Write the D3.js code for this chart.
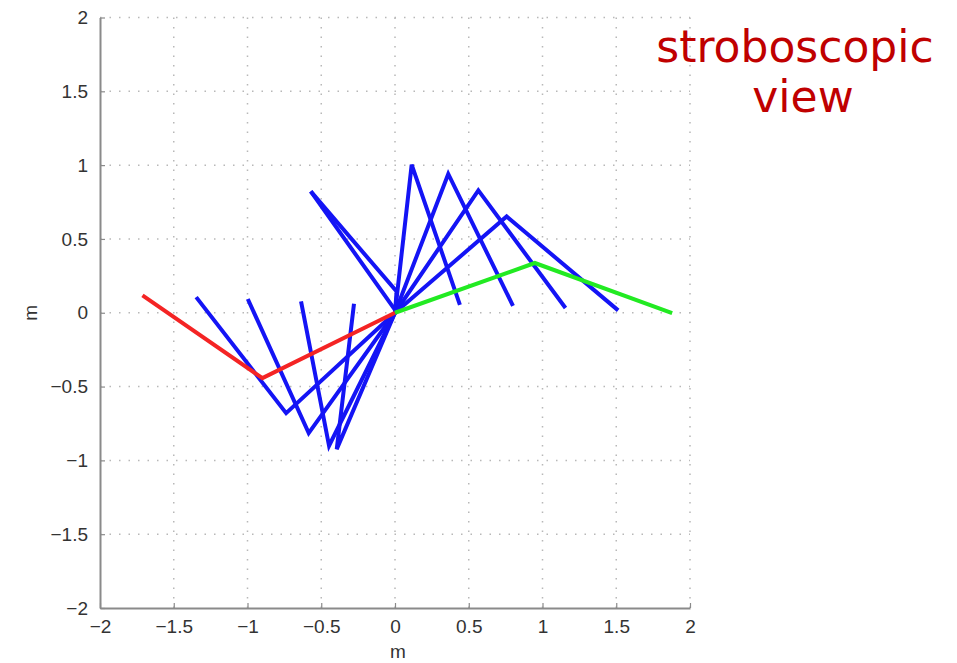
<!DOCTYPE html>
<html>
<head>
<meta charset="utf-8">
<script src="https://cdn.jsdelivr.net/npm/d3@7"></script>
<style>
  body { margin: 0; background: white; }
  svg { display: block; }
</style>
</head>
<body>
<svg id="chart"></svg>
<script>
// axis ticks
const ticks = [-2, -1.5, -1, -0.5, 0, 0.5, 1, 1.5, 2];

// blue arm poses: tip -> elbow -> base (origin)
const blueTipX = [-1.348, -0.998, -0.637, -0.278, -0.571, -0.571, 0.44, 0.80, 1.156, 1.513];
const blueTipY = [0.106, 0.093, 0.077, 0.061, 0.822, 0.822, 0.054, 0.047, 0.032, 0.016];
const blueElbowX = [-0.738, -0.585, -0.447, -0.395, 0.0, 0.011, 0.113, 0.361, 0.565, 0.757];
const blueElbowY = [-0.680, -0.815, -0.901, -0.924, 0.02, 0.144, 1.003, 0.940, 0.829, 0.652];

// start pose (red) and end pose (green)
const redTip = [-1.712, 0.117];
const redElbow = [-0.899, -0.443];
const greenTip = [1.879, -0.002];
const greenElbow = [0.948, 0.337];
const base = [0, 0];

const w = 957;
const h = 663;
const margin = { left: 100, right: 267, top: 17.5, bottom: 55 };

const svg = d3.select("#chart").attr("width", w).attr("height", h);

const x = d3.scaleLinear().domain([-2, 2]).range([margin.left, w - margin.right]);
const y = d3.scaleLinear().domain([-2, 2]).range([h - margin.bottom, margin.top]);

const fmt = d => (d < 0 ? "\u2212" : "") + Math.abs(d);
const font = "Liberation Sans, Arial, sans-serif";

// dotted grid
const grid = svg.append("g").attr("stroke", "#b8b8b8").attr("stroke-width", 1.5)
  .attr("stroke-dasharray", "1.5,8");
grid.selectAll(".gx").data(ticks.slice(1)).enter().append("line")
  .attr("x1", d => x(d)).attr("x2", d => x(d))
  .attr("y1", y(-2)).attr("y2", y(2));
grid.selectAll(".gy").data(ticks.slice(1)).enter().append("line")
  .attr("x1", x(-2)).attr("x2", x(2))
  .attr("y1", d => y(d)).attr("y2", d => y(d));

// axes
const xAxis = d3.axisBottom(x).tickValues(ticks).tickFormat(fmt)
  .tickSizeInner(-5).tickSizeOuter(0).tickPadding(12);
const yAxis = d3.axisLeft(y).tickValues(ticks).tickFormat(fmt)
  .tickSizeInner(-5).tickSizeOuter(0).tickPadding(12);

const gx = svg.append("g").attr("transform", `translate(0,${y(-2)})`).call(xAxis);
const gy = svg.append("g").attr("transform", `translate(${x(-2)},0)`).call(yAxis);

[gx, gy].forEach(g => {
  g.select(".domain").attr("stroke", "#8a8a8a").attr("stroke-width", 2);
  g.selectAll(".tick line").attr("stroke", "#8a8a8a").attr("stroke-width", 1.2);
  g.selectAll(".tick text").attr("fill", "#333").style("font-family", font)
    .style("font-size", "19px");
});

// axis labels
svg.append("text").attr("x", x(0) + 3).attr("y", 658).attr("text-anchor", "middle")
  .attr("fill", "#333").style("font-family", font).style("font-size", "19px")
  .text("m");
svg.append("text").attr("transform", `translate(37,${y(0)}) rotate(-90)`).attr("text-anchor", "middle")
  .attr("fill", "#333").style("font-family", font).style("font-size", "19px")
  .text("m");

// arm poses
const line = d3.line().x(d => x(d[0])).y(d => y(d[1]));
const arms = svg.append("g").attr("fill", "none").attr("stroke-width", 4)
  .attr("stroke-linejoin", "miter").attr("stroke-linecap", "butt");

arms.selectAll(".blue").data(blueTipX.map((t, i) => [
    [t, blueTipY[i]], [blueElbowX[i], blueElbowY[i]], base
  ])).enter().append("path")
  .attr("d", line).attr("stroke", "#1414f5");

arms.append("path").attr("d", line([redTip, redElbow, base])).attr("stroke", "#f42424");
arms.append("path").attr("d", line([base, greenElbow, greenTip])).attr("stroke", "#22ea22");

// title text
const title = svg.append("text").attr("fill", "#c00000")
  .style("font-family", "DejaVu Sans, Verdana, sans-serif").style("font-size", "44px")
  .attr("text-anchor", "middle");
title.append("tspan").attr("x", 795).attr("y", 62).text("stroboscopic");
title.append("tspan").attr("x", 803).attr("y", 112).text("view");
</script>
</body>
</html>
